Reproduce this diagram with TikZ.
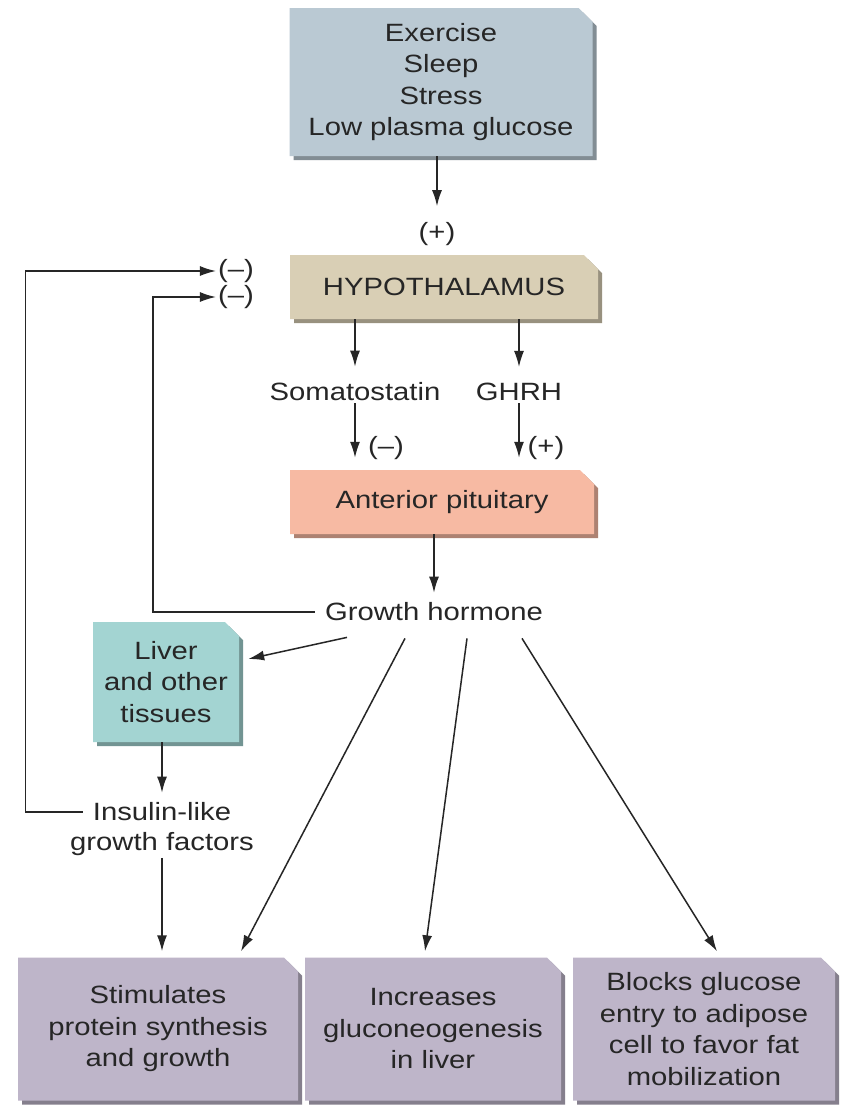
\documentclass[tikz,border=0pt]{standalone}
\usepackage{fontspec}
\setmainfont{Liberation Sans}[FakeStretch=1.17]
\usepackage{tikz}
\usetikzlibrary{arrows.meta, positioning, shapes.misc, shadows, calc}

\definecolor{srcblue}{RGB}{186,201,211}
\definecolor{hypotan}{RGB}{217,207,181}
\definecolor{pitpink}{RGB}{247,186,163}
\definecolor{livercyan}{RGB}{163,212,210}
\definecolor{effectlilac}{RGB}{190,181,201}
\definecolor{inkgray}{RGB}{38,38,38}

\tikzset{
    organ/.style={
        chamfered rectangle,
        chamfered rectangle corners=north east,
        chamfered rectangle xsep=7pt,
        chamfered rectangle ysep=7pt,
        inner sep=0pt,
        align=center,
        text=inkgray,
        fill=#1,
        drop shadow={shadow xshift=4pt, shadow yshift=-4pt, fill=#1!70!black, opacity=1}
    },
    hormone/.style={
        inner sep=2pt,
        align=center,
        text=inkgray
    },
    arrow/.style={
        -{Latex[length=16pt, width=10pt]},
        line width=1.5pt,
        draw=inkgray
    }
}

\begin{document}
\begin{tikzpicture}[
    x=1pt, y=-1pt,
    font=\fontsize{25}{31.5}\selectfont
]
\useasboundingbox[fill=white] (0,0) rectangle (843,1112);

\node[organ=srcblue, minimum width=303, minimum height=148] (src) at (441,82) {Exercise\\Sleep\\Stress\\Low plasma glucose};
\node[hormone] (plusA) at (437,234) {(+)};
\node[organ=hypotan, minimum width=308, minimum height=64] (hypo) at (444,287) {HYPOTHALAMUS};
\node[hormone] (minusA) at (236,271) {(–)};
\node[hormone] (minusB) at (236,297) {(–)};

\node[hormone] (soma) at (355,392) {Somatostatin};
\node[hormone] (ghrh) at (519,392) {GHRH};
\node[hormone] (minusC) at (386,448) {(–)};
\node[hormone] (plusB) at (546,448) {(+)};

\node[organ=pitpink, minimum width=304, minimum height=64] (pit) at (442,502) {Anterior pituitary};
\node[hormone] (gh) at (434,612) {Growth hormone};

\node[organ=livercyan, minimum width=146, minimum height=120] (liver) at (166,682) {Liver\\and other\\tissues};
\node[hormone] (igfA) at (162,812) {Insulin-like};
\node[hormone] (igfB) at (162,844) {growth factors};

\node[organ=effectlilac, minimum width=280, minimum height=143] (protein) at (158,1029) {Stimulates\\protein synthesis\\and growth};
\node[organ=effectlilac, minimum width=256, minimum height=143] (gluco) at (433,1029) {Increases\\gluconeogenesis\\in liver};
\node[organ=effectlilac, minimum width=262, minimum height=143] (adipose) at (704,1029) {Blocks glucose\\entry to adipose\\cell to favor fat\\mobilization};

\draw[arrow, shorten >=14pt] (src.south -| plusA) -- (plusA.north);
\draw[arrow, shorten >=14pt] (hypo.south -| soma) -- (soma.north);
\draw[arrow, shorten >=14pt] (hypo.south -| ghrh) -- (ghrh.north);
\draw[arrow, shorten >=12pt] (soma.south) -- (soma.south |- pit.north);
\draw[arrow, shorten >=12pt] (ghrh.south) -- (ghrh.south |- pit.north);
\draw[arrow, shorten >=8pt] (pit.south -| gh) -- (gh.north);

% feedback loops
\draw[arrow] ([xshift=-8pt]igfA.west) -- ++(-57,0) |- (minusA.west);
\draw[arrow] ([xshift=-8pt]gh.west) -- ++(-162,0) |- (minusB.west);

\draw[arrow] ([xshift=-87pt, yshift=-14pt]gh.south) -- ([xshift=9pt, yshift=23pt]liver.east);
\draw[arrow, shorten >=8pt] (liver.south -| igfA) -- (igfA.north);
\draw[arrow, shorten >=6pt] (igfB.south) -- (igfB.south |- protein.north);

\draw[arrow] ([xshift=-29pt, yshift=-15pt]gh.south) -- ([xshift=83pt, yshift=6pt]protein.north);
\draw[arrow] ([xshift=33pt, yshift=-15pt]gh.south) -- ([xshift=-8pt, yshift=6pt]gluco.north);
\draw[arrow] ([xshift=88pt, yshift=-15pt]gh.south) -- ([xshift=13pt, yshift=6pt]adipose.north);

\end{tikzpicture}
\end{document}
